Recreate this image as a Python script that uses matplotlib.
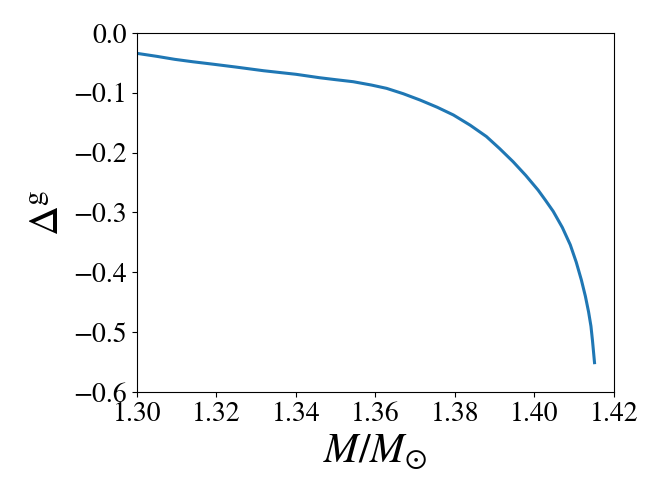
import numpy as np
import matplotlib.pyplot as plt

plt.rcParams['font.family'] = 'serif'
plt.rcParams['font.serif'] = ['STIXGeneral', 'Liberation Serif', 'DejaVu Serif']
plt.rcParams['mathtext.fontset'] = 'stix'

# values
mass = [1.3000, 1.3050, 1.3095, 1.3140, 1.3190, 1.3250, 1.3318, 1.3400, 1.3459,
        1.3500, 1.3544, 1.3590, 1.3628, 1.3670, 1.3712, 1.3755, 1.3796, 1.3838,
        1.3879, 1.3912, 1.3946, 1.3978, 1.4009, 1.4027, 1.4047, 1.4070, 1.4090,
        1.4105, 1.4118, 1.4128, 1.4136, 1.4142, 1.4146, 1.4151]
delta_g = [-0.034, -0.039, -0.044, -0.048, -0.052, -0.057, -0.063, -0.069, -0.0747,
           -0.078, -0.0814, -0.087, -0.0925, -0.1015, -0.112, -0.124, -0.137, -0.154,
           -0.173, -0.193, -0.215, -0.238, -0.2625, -0.279, -0.298, -0.325, -0.354,
           -0.383, -0.413, -0.440, -0.466, -0.490, -0.515, -0.551]

fig = plt.figure(figsize=(6.64, 4.98), dpi=100)
ax = fig.add_axes([0.2063, 0.2129, 0.7184, 0.7208])
ax.plot(mass, delta_g, color='#1f77b4', lw=2.2)

ax.set_xlim(1.30, 1.42)
ax.set_ylim(-0.6, 0.0)
ax.set_xticks(np.arange(1.30, 1.4201, 0.02))
ax.set_yticks(np.arange(-0.6, 0.001, 0.1))
ax.set_xticklabels(['1.30', '1.32', '1.34', '1.36', '1.38', '1.40', '1.42'])
ax.set_yticklabels(['\u22120.6', '\u22120.5', '\u22120.4', '\u22120.3', '\u22120.2', '\u22120.1', '0.0'])
ax.tick_params(labelsize=20)
ax.set_xlabel(r'$M/M_{\odot}$', fontsize=30)
ax.set_ylabel(r'$\Delta^{\mathrm{g}}$', fontsize=30)

fig.savefig('out.png', dpi=100)
